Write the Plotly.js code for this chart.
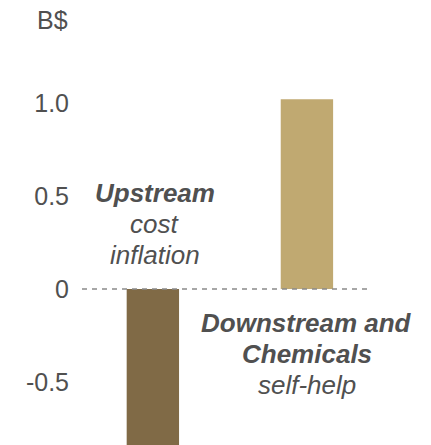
<!DOCTYPE html>
<html>
<head>
<meta charset="utf-8">
<script src="https://cdn.plot.ly/plotly-3.0.1.min.js"></script>
<style>html,body{margin:0;padding:0;background:#fff;}#chart{width:431px;height:445px;}</style>
</head>
<body>
<div id="chart"></div>
<script>
const categories = ['Upstream cost inflation', 'Downstream and Chemicals self-help'];
const values = [-0.9, 1.02];
const barColors = ['#806A46', '#C0A971'];
const tickVals = [-0.5, 0, 0.5, 1.0];
const tickText = ['-0.5', '0', '0.5', '1.0'];
const unitLabel = 'B$';
const labelLines = [
  ['<b><i>Upstream</i></b>', '<i>cost</i>', '<i>inflation</i>'],
  ['<b><i>Downstream and</i></b>', '<b><i>Chemicals</i></b>', '<i>self-help</i>']
];

const font = 'Liberation Sans, Arial, sans-serif';
const textColor = '#505050';

const data = [{
  type: 'bar',
  x: categories,
  y: values,
  width: 0.34,
  marker: {color: barColors, line: {width: 0}},
  hoverinfo: 'none'
}];

// pixel helpers for placement only (layout, not data)
const yPx = p => (289 - p) / 186;
const labelX = [0.013, 1.0];
const labelTop = [193, 323];
const lineGap = 31;

const annotations = [
  {xref: 'paper', yref: 'paper', x: -0.042, y: 1 - 20/445, xanchor: 'right', yanchor: 'middle',
   text: unitLabel, showarrow: false, font: {family: font, size: 25, color: textColor}}
];
labelLines.forEach((lines, i) => {
  lines.forEach((t, j) => {
    annotations.push({
      xref: 'x', yref: 'y', x: labelX[i], y: yPx(labelTop[i] + j * lineGap),
      xanchor: 'center', yanchor: 'middle', text: t, showarrow: false,
      font: {family: font, size: 26, color: textColor}
    });
  });
});

const layout = {
  width: 431, height: 445,
  margin: {l: 82, r: 64, t: 0, b: 0, pad: 0},
  paper_bgcolor: '#fff', plot_bgcolor: '#fff',
  showlegend: false,
  xaxis: {type: 'category', range: [-0.46, 1.39], visible: false, fixedrange: true},
  yaxis: {
    range: [-0.839, 1.554], showgrid: false, zeroline: false, showline: false,
    tickvals: tickVals, ticktext: tickText, ticks: '',
    ticklabelstandoff: 12,
    tickfont: {family: font, size: 25, color: textColor}
  },
  shapes: [{
    type: 'line', xref: 'x', yref: 'y', x0: -0.46, x1: 1.39, y0: 0, y1: 0,
    line: {color: '#8a8a8a', width: 1.5, dash: '5px,5px'}, layer: 'above'
  }],
  annotations: annotations
};

Plotly.newPlot('chart', data, layout, {displayModeBar: false, staticPlot: true});
</script>
</body>
</html>
